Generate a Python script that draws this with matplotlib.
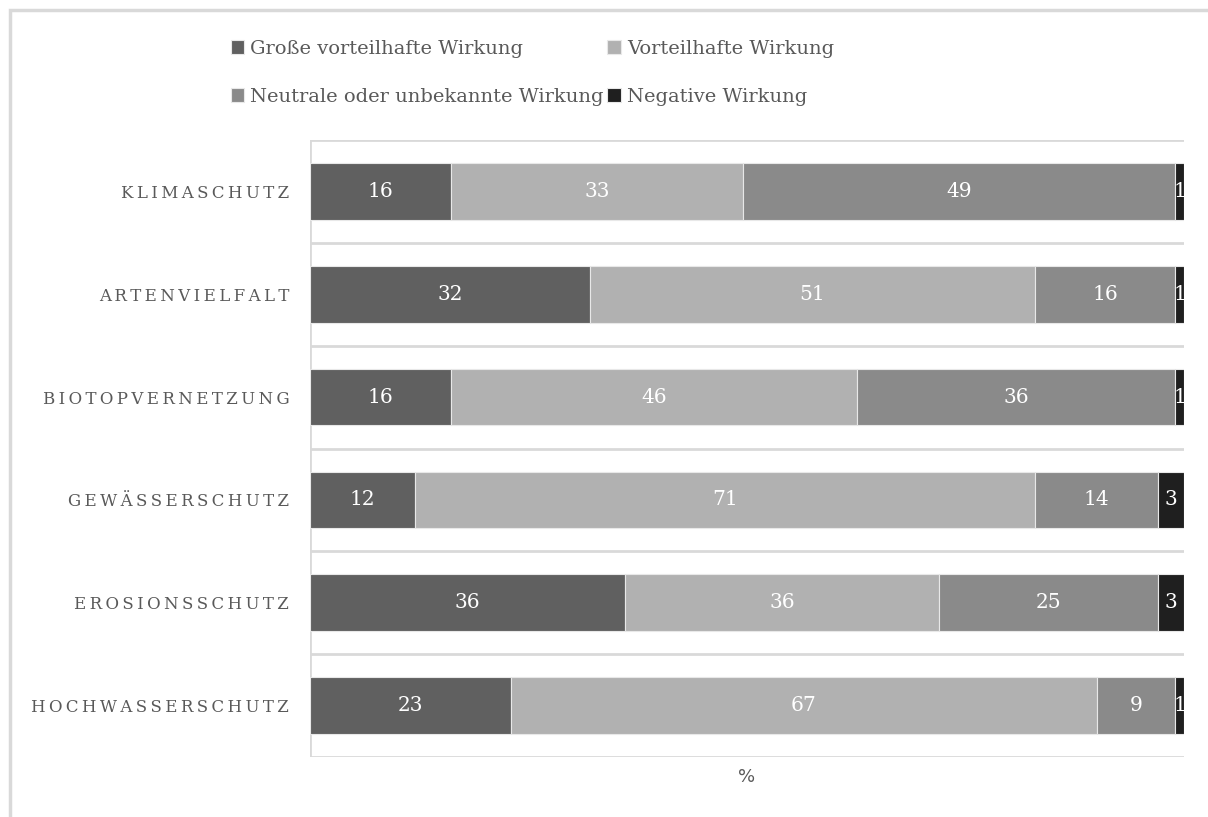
import matplotlib.pyplot as plt
import numpy as np
from matplotlib.patches import Rectangle

categories = ["KLIMASCHUTZ", "ARTENVIELFALT", "BIOTOPVERNETZUNG",
              "GEWÄSSERSCHUTZ", "EROSIONSSCHUTZ", "HOCHWASSERSCHUTZ"]
series_names = ["Große vorteilhafte Wirkung", "Vorteilhafte Wirkung",
                "Neutrale oder unbekannte Wirkung", "Negative Wirkung"]
gross = [16, 32, 16, 12, 36, 23]
vorteil = [33, 51, 46, 71, 36, 67]
neutral = [49, 16, 36, 14, 25, 9]
negativ = [1, 1, 1, 3, 3, 1]

colors = ["#606060", "#b1b1b1", "#8a8a8a", "#1f1f1f"]
txt_col = "#595959"

W, H = 1208, 817
fig = plt.figure(figsize=(W / 100, H / 100), dpi=100)
ax = fig.add_axes([310 / W, 1 - 757 / H, 874 / W, 617 / H])

# outer chart frame
fig.patches.append(Rectangle((10 / W, -0.05), 1.1, 1 - 10 / H + 0.05,
                             transform=fig.transFigure, fill=False,
                             edgecolor="#d9d9d9", linewidth=2.5, zorder=0))

data = np.array([gross, vorteil, neutral, negativ], dtype=float)
share = data / data.sum(axis=0) * 100
y = np.arange(len(categories))
left = np.zeros(len(categories))
bars = []
for i, name in enumerate(series_names):
    b = ax.barh(y, share[i], left=left, height=0.55, color=colors[i],
                edgecolor="#e8e8e8", linewidth=0.8, label=name, zorder=3)
    for j in range(len(categories)):
        ax.text(left[j] + share[i][j] / 2, y[j], str(int(data[i][j])),
                ha="center", va="center", color="white", fontsize=14.5,
                family="DejaVu Serif", zorder=4)
    left += share[i]
    bars.append(b)

ax.set_xlim(0, 100)
ax.set_ylim(len(categories) - 0.5, -0.5)
for k in range(len(categories) + 1):
    ax.axhline(k - 0.5, color="#d9d9d9", linewidth=2, zorder=1)
ax.axvline(0, color="#d9d9d9", linewidth=2, zorder=1)
for s in ax.spines.values():
    s.set_visible(False)
ax.set_xticks([])
ax.set_yticks(y)
ax.set_yticklabels(["\u2009".join(c) for c in categories], family="DejaVu Serif",
                   fontsize=12, color=txt_col)
ax.tick_params(axis="y", length=0, pad=15)
ax.set_xlabel("%", fontsize=13, color=txt_col, labelpad=8)

handles = [bars[0], bars[2], bars[1], bars[3]]
labels = [series_names[0], series_names[2], series_names[1], series_names[3]]
leg = fig.legend(handles, labels, ncol=2, loc="upper left",
                 bbox_to_anchor=(213 / W, 1 - 22 / H), frameon=False,
                 prop={"family": "DejaVu Serif", "size": 14},
                 handlelength=0.7, handleheight=0.7, handletextpad=0.3,
                 columnspacing=0.2, labelspacing=1.55, labelcolor=txt_col)

fig.savefig("out.png", dpi=100)
